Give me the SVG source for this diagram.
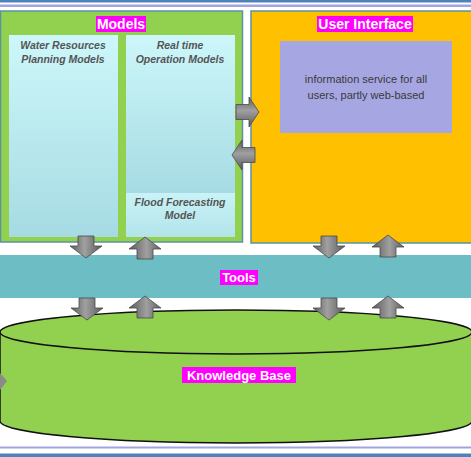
<svg xmlns="http://www.w3.org/2000/svg" width="471" height="457" viewBox="0 0 471 457">
<defs>
<linearGradient id="cyan" x1="0" y1="0" x2="0" y2="1">
<stop offset="0" stop-color="#CDF7FA"/>
<stop offset="1" stop-color="#A6DBE3"/>
</linearGradient>
<linearGradient id="cyan2" x1="0" y1="0" x2="0" y2="1">
<stop offset="0" stop-color="#C9F3F6"/>
<stop offset="1" stop-color="#B2E4EA"/>
</linearGradient>
<linearGradient id="grayV" x1="0" y1="0" x2="1" y2="0">
<stop offset="0" stop-color="#5E5E5E"/>
<stop offset="0.45" stop-color="#A0A0A0"/>
<stop offset="1" stop-color="#5A5A5A"/>
</linearGradient>
<linearGradient id="grayH" x1="0" y1="0" x2="0" y2="1">
<stop offset="0" stop-color="#5E5E5E"/>
<stop offset="0.45" stop-color="#A0A0A0"/>
<stop offset="1" stop-color="#5A5A5A"/>
</linearGradient>
<path id="arrDown" d="M -8,-22 L 8,-22 L 8,-12 L 16,-12 L 0,0 L -16,-12 L -8,-12 Z"/>
</defs>
<style>
.title{font-family:"Liberation Sans",Arial,sans-serif;font-weight:bold;fill:#FFFFFF;text-anchor:middle}
.lblbg{fill:#FF00FF}
.sub{font-family:"Liberation Sans",Arial,sans-serif;font-weight:bold;font-style:italic;font-size:10.5px;fill:#555555;text-anchor:middle}
.info{font-family:"Liberation Sans",Arial,sans-serif;font-size:11px;fill:#3A3A3A;text-anchor:middle}
.av{fill:url(#grayV);stroke:#4A4A4A;stroke-width:0.8}
.ah{fill:url(#grayH);stroke:#4A4A4A;stroke-width:0.8}
</style>
<rect x="0" y="0" width="471" height="457" fill="#FFFFFF"/>
<g id="frame">
<rect x="0" y="0" width="471" height="2.5" fill="#4F81BD"/>
<rect x="0" y="4.5" width="471" height="2.5" fill="#A3A3E0"/>
<rect x="0" y="446.5" width="471" height="2" fill="#A3A3E0"/>
<rect x="0" y="453.5" width="471" height="3.5" fill="#4F81BD"/>
</g>
<g id="models">
<rect x="0.5" y="11" width="242" height="231" fill="#92D050" stroke="#5C93A3" stroke-width="1.5"/>
<rect x="96" y="16" width="50" height="16" class="lblbg"/>
<text x="121" y="29" class="title" font-size="14">Models</text>
</g>
<g id="water-resources">
<rect x="9" y="35" width="109" height="202" fill="url(#cyan)"/>
<text x="63" y="49" class="sub">Water Resources</text>
<text x="63" y="63" class="sub">Planning Models</text>
</g>
<g id="realtime">
<rect x="126" y="35" width="109" height="158" fill="url(#cyan)"/>
<text x="180" y="49" class="sub">Real time</text>
<text x="180" y="63" class="sub">Operation Models</text>
</g>
<g id="flood">
<rect x="126" y="193" width="109" height="44" fill="url(#cyan2)"/>
<text x="180" y="206" class="sub">Flood Forecasting</text>
<text x="180" y="219" class="sub">Model</text>
</g>
<g id="user-interface">
<rect x="251" y="11" width="225" height="232" fill="#FFC000" stroke="#5C93A3" stroke-width="1.5"/>
<rect x="317" y="16" width="96" height="16" class="lblbg"/>
<text x="365" y="29" class="title" font-size="14">User Interface</text>
</g>
<g id="info-service">
<rect x="280" y="41" width="172" height="92" fill="#A6A6E2"/>
<text x="366" y="83" class="info">information service for all</text>
<text x="366" y="99" class="info">users, partly web-based</text>
</g>
<g id="tools">
<rect x="-6" y="255" width="483" height="43" rx="7" fill="#6DBDC5"/>
<rect x="220" y="270" width="38" height="15" class="lblbg"/>
<text x="239" y="282" class="title" font-size="13">Tools</text>
</g>
<g id="knowledge-base">
<path d="M 0,332 A 236,22 0 0 1 472,332 L 472,421 A 236,22 0 0 1 0,421 Z" fill="#92D050" stroke="#111111" stroke-width="1.5"/>
<path d="M 0,332 A 236,22 0 0 0 472,332" fill="none" stroke="#111111" stroke-width="1.5"/>
<rect x="182" y="367" width="114" height="16" class="lblbg"/>
<text x="239" y="380" class="title" font-size="13">Knowledge Base</text>
</g>
<g id="connectors">
<use href="#arrDown" class="av" transform="translate(86,258)"/>
<use href="#arrDown" class="av" transform="translate(145,237) rotate(180)"/>
<use href="#arrDown" class="av" transform="translate(329,258)"/>
<use href="#arrDown" class="av" transform="translate(388,235) rotate(180)"/>
<use href="#arrDown" class="av" transform="translate(87,320)"/>
<use href="#arrDown" class="av" transform="translate(145,296) rotate(180)"/>
<use href="#arrDown" class="av" transform="translate(329,320)"/>
<use href="#arrDown" class="av" transform="translate(388,296) rotate(180)"/>
<path d="M 236,104.5 L 249,104.5 L 249,97 L 259,112 L 249,127 L 249,119.5 L 236,119.5 Z" class="ah"/>
<path d="M 255,147.5 L 242,147.5 L 242,140 L 232,155 L 242,170 L 242,162.5 L 255,162.5 Z" class="ah"/>
<path d="M 0,373 L 7,381 L 0,390 Z" fill="#8A8A8A"/>
</g>
</svg>
